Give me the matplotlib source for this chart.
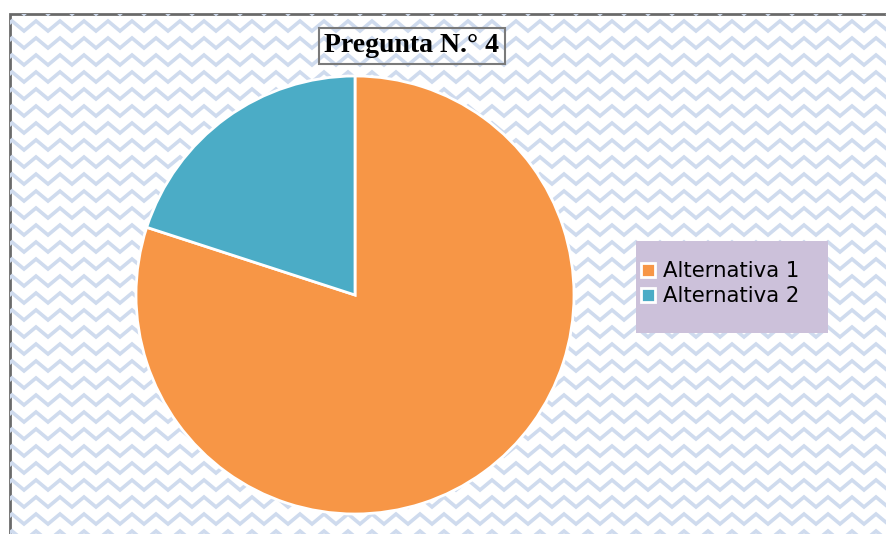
import numpy as np
import matplotlib
matplotlib.use("Agg")
import matplotlib.pyplot as plt
from matplotlib.patches import Rectangle

# data
labels = ["Alternativa 1", "Alternativa 2"]
values = [80, 20]
colors = ["#f79646", "#4bacc6"]
title = "Pregunta N.° 4"

W, H = 886, 534
fig = plt.figure(figsize=(W / 100, H / 100), dpi=100)

# background with zigzag pattern
bg = fig.add_axes([0, 0, 1, 1])
bg.set_xlim(0, W)
bg.set_ylim(H, 0)
bg.axis("off")
frame = Rectangle((10, 14), W, H, facecolor="white", edgecolor="#6a6a6a", linewidth=2, zorder=0)
bg.add_patch(frame)
xs = np.arange(-12, W + 24, 12)
for y0 in np.arange(4, H + 20, 17):
    ys = y0 + np.where(np.arange(len(xs)) % 2 == 0, 0, 10)
    ln, = bg.plot(xs, ys, color="#cfdbee", lw=2.6, zorder=1, solid_joinstyle="miter")
    ln.set_clip_path(frame)

# legend box
bg.add_patch(Rectangle((636, 241), 192, 92, facecolor="#ccc1da", edgecolor="none", zorder=2))

# pie
cx, cy, r = 355, 295, 219
ax = fig.add_axes([(cx - r) / W, (H - cy - r) / H, 2 * r / W, 2 * r / H])
wedges, _ = ax.pie(values, colors=colors, startangle=90, counterclock=False,
                   wedgeprops=dict(edgecolor="white", linewidth=2))
ax.set_xlim(-1.0, 1.0)
ax.set_ylim(-1.0, 1.0)
ax.axis("off")

# title
fig.text(412 / W, 1 - 46 / H, title, ha="center", va="center",
         family="Liberation Serif", fontweight="bold", fontsize=20,
         bbox=dict(boxstyle="square,pad=0.2", facecolor="none", edgecolor="#7a7a7a", linewidth=1.5))

# legend
leg = fig.legend(wedges, labels, loc="upper left", bbox_to_anchor=(622 / W, 1 - 242 / H),
                 frameon=False, fontsize=15.3, handlelength=0.65, handleheight=0.65,
                 handletextpad=0.4, labelspacing=0.25)

fig.savefig("out.png", dpi=100)
